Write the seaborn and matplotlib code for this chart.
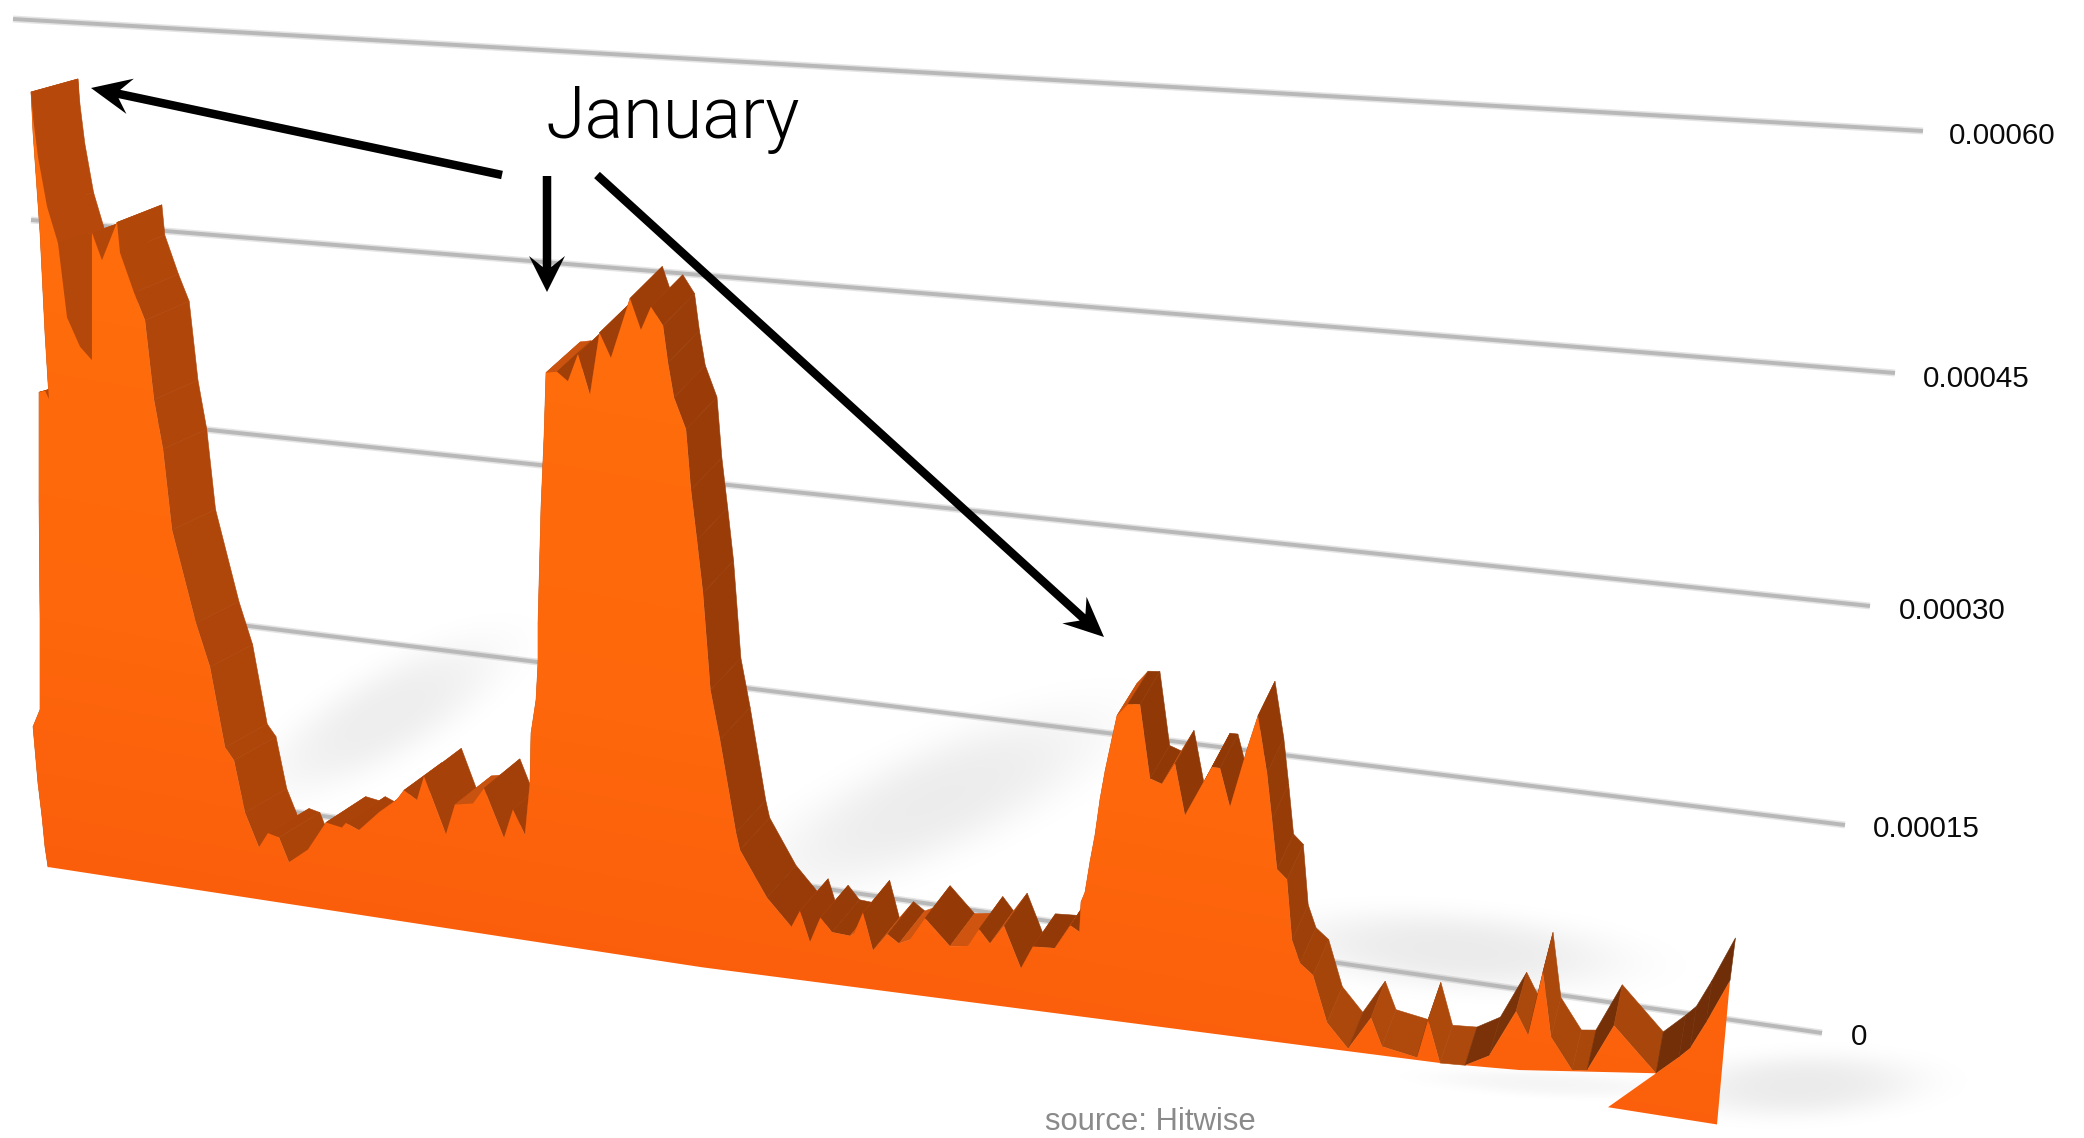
import numpy as np
import matplotlib
matplotlib.use("Agg")
import matplotlib.pyplot as plt
from matplotlib.colors import LinearSegmentedColormap, to_rgb
from matplotlib.patches import Polygon
import seaborn as sns

# Search share by week; shares are in millionths of all visits.
week = [1.8, 1.5, 1.2, 0.8, 0.3, 1.0, 1.0, 0.9, 0.9, 1.5, 1.9, 1.5, 1.0, 0.3, 0.1,
        0.3, 0.8, 1.7, 2.8, 3.7, 5.0, 6.2, 6.2, 7.2, 8.7, 9.0, 10.4, 11.5, 12.4, 13.3, 14.2,
        16.6, 18.0, 19.5, 20.4, 21.5, 22.9, 23.8, 24.9, 25.9, 27.8, 29.6, 31.2, 31.6, 32.9, 34.9,
        36.7, 37.4, 38.7, 39.4, 41.6, 42.5, 44.3, 45.4, 47.4, 48.3, 49.5, 50.0,
        50.1, 50.6, 50.8, 50.8, 51.1, 51.4, 51.6, 52.7, 53.8, 54.8, 56.0, 56.95, 58.1, 60.0,
        61.1, 62.1, 63.3, 63.8, 64.4, 65.6, 66.1, 66.7, 67.3, 68.05, 69.0, 70.6, 71.0, 73.7,
        76.15, 77.0, 78.0, 79.05, 80.2, 82.0, 82.4, 83.3, 84.3, 85.75, 86.9, 88.0, 89.5, 92.0,
        93.8, 94.9, 96.0, 97.4, 99.1, 100.3, 102.5, 104.05, 104.95, 105.1, 105.5, 106.0, 106.5,
        107.0, 107.5, 108.2, 108.7, 109.8, 111.0, 112.0, 113.2, 114.5, 115.5, 118.2, 119.0,
        120.0, 121.7, 122.8, 123.7, 124.2, 124.7, 125.7, 126.2, 127.0, 128.3, 129.7, 131.8,
        134.1, 135.2, 138.7, 139.8, 141.0, 143.5, 145.9, 148.6, 149.8, 151.3, 152.1, 154.2,
        155.7, 158.4, 162.6, 164.9, 166.0, 167.6, 170.0]
share = [0, 15, 38, 63, 106, 120, 192, 281, 364, 366, 360, 410, 487, 563, 594,
         575, 545, 508, 481, 425, 404, 395, 493, 473, 504, 481, 452, 432, 372, 335, 274,
         205, 173, 113, 104, 65, 40, 52, 50, 32, 44, 67, 65, 69, 65, 81,
         93, 101, 95, 114, 72, 96, 99, 112, 76, 99, 81, 122,
         160, 186, 215, 245, 335, 389, 439, 441, 435, 457, 427, 476, 458, 506,
         483, 502, 489, 461, 435, 412, 366, 328, 288, 214, 177, 107, 94, 60,
         40, 53, 30, 50, 40, 39, 41, 58, 30, 44, 38, 42, 60, 41,
         43, 57, 47, 62, 31, 49, 50, 69, 65, 88, 96, 120, 141,
         169, 191, 217, 235, 245, 246, 190, 187, 204, 165, 205, 205,
         176, 222, 249, 206, 171, 133, 126, 80, 63, 55, 20, 2,
         28, 7, 2, 32, 0, 0, 9, 45, 27, 76,
         26, 1, 1, 36, 0, 13, 20, 40, 73]

# The last column of the series dips below the floor of the chart.
closing_week = [168.7, 157.8, 162.6]
closing_share = [-38, -27, 0]

grid_levels = [0.0, 0.00015, 0.00030, 0.00045, 0.00060]
grid_labels = ["0", "0.00015", "0.00030", "0.00045", "0.00060"]

WIDTH, HEIGHT = 2084, 1138

# Perspective of the scene, in canvas pixels.
floor_x = [30, 48, 700, 1300, 1440, 1518, 1646, 1750]
floor_y = [864, 867, 967, 1045, 1063, 1070, 1073, 1076]
wall_left_x = [60, 40, 40, 31, 13]
wall_left_y = [778, 600, 412, 220, 19]
wall_right_x = [1822, 1845, 1870, 1895, 1923]
wall_right_y = [1033, 825, 606, 373, 131]
label_x = [1851, 1873, 1899, 1923, 1949]
label_y = [1037, 829, 611, 379, 136]


def project(weeks, shares):
    """Front face of the ribbon: week and share to canvas position."""
    x = 30 + 10 * np.asarray(weeks, float)
    y = np.interp(x, floor_x, floor_y) - 1.3 * np.asarray(shares, float)
    return x, y


def extrude(x, y):
    """Back face of the ribbon, receding towards the vanishing point."""
    dx = np.interp(x, [30, 1750], [47, 5])
    dy = np.interp(x, [30, 240, 600, 1160, 1750], [-13, -24, -32, -33, -43])
    return x + dx, y + dy


def blend(x, stops, colours):
    rgb = np.array([to_rgb(c) for c in colours])
    return tuple(np.interp(x, stops, rgb[:, i]) for i in range(3))


def draw_arrow(ax, start, tip, length=40, half_width=18, notch=11, shaft=8.5):
    start, tip = np.array(start, float), np.array(tip, float)
    u = (tip - start) / np.linalg.norm(tip - start)
    n = np.array([-u[1], u[0]])
    barb = tip - u * length
    neck = barb + u * notch
    pts = [start + n * shaft / 2, neck + n * shaft / 2, barb + n * half_width, tip,
           barb - n * half_width, neck - n * shaft / 2, start - n * shaft / 2]
    ax.add_patch(Polygon(pts, closed=True, fc="black", ec="none", zorder=8))


sns.set_theme(style="white")
plt.rcParams["font.family"] = ["Liberation Sans", "DejaVu Sans"]

fig = plt.figure(figsize=(WIDTH / 100, HEIGHT / 100), dpi=100, facecolor="white")
ax = fig.add_axes([0, 0, 1, 1])
ax.set_xlim(0, WIDTH)
ax.set_ylim(HEIGHT, 0)
ax.axis("off")

# Soft shadows the ribbon casts on the back wall and on the ground.
gx, gy = np.meshgrid(np.arange(WIDTH), np.arange(HEIGHT))
shadow_blobs = [  # centre x, centre y, long radius, short radius, angle, darkness
    (385, 715, 125, 42, -30, 0.07),
    (935, 800, 175, 52, -24, 0.075),
    (1455, 950, 160, 36, 4, 0.08),
    (1800, 1085, 115, 30, -2, 0.08),
    (1545, 1083, 110, 12, 3, 0.04),
]
alpha = np.zeros_like(gx, dtype=float)
for cx, cy, a, b, ang, dark in shadow_blobs:
    t = np.deg2rad(ang)
    u = (gx - cx) * np.cos(t) + (gy - cy) * np.sin(t)
    v = -(gx - cx) * np.sin(t) + (gy - cy) * np.cos(t)
    alpha += dark * np.exp(-((u / a) ** 2 + (v / b) ** 2) ** 1.5)
shadow = np.zeros(alpha.shape + (4,))
shadow[..., 3] = np.clip(alpha, 0, 1)
ax.imshow(shadow, extent=(0, WIDTH, HEIGHT, 0), zorder=1, aspect="auto")

# Gridlines along the back wall, with their value labels at the far end.
for i, level in enumerate(grid_levels):
    xs = np.array([wall_left_x[i], wall_right_x[i]])
    ys = np.array([wall_left_y[i], wall_right_y[i]])
    sns.lineplot(x=xs, y=ys, ax=ax, color="#a8a8a8", lw=5.0, alpha=0.3,
                 estimator=None, sort=False, solid_capstyle="butt", zorder=2)
    sns.lineplot(x=xs, y=ys, ax=ax, color="#b8b8b8", lw=2.8,
                 estimator=None, sort=False, solid_capstyle="butt", zorder=2)
    ax.text(label_x[i], label_y[i], grid_labels[i], fontsize=21.3, color="#0a0a0a",
            ha="left", va="center", zorder=9)

# Top surface of the ribbon: one shaded facet per step of the series.
fx, fy = project(week, share)
bx, by = extrude(fx, fy)
fall_stops = [50, 700, 1250, 1350, 1750]
fall_cols = ["#b5480a", "#9a3c08", "#8f3806", "#b04a0c", "#a5450b"]
rise_stops = [50, 900, 1250, 1400, 1750]
rise_cols = ["#c2500e", "#cf5510", "#c94f0c", "#7f3408", "#6f2d08"]
for i in range(len(fx) - 1):
    mid = 0.5 * (fx[i] + fx[i + 1])
    if fy[i + 1] > fy[i]:
        colour = blend(mid, fall_stops, fall_cols)
    else:
        colour = blend(mid, rise_stops, rise_cols)
    quad = [(fx[i], fy[i]), (fx[i + 1], fy[i + 1]), (bx[i + 1], by[i + 1]), (bx[i], by[i])]
    ax.add_patch(Polygon(quad, closed=True, fc=colour, ec=colour, lw=0.4, zorder=3))

# Front face of the ribbon, filled with a faint diagonal gradient.
cx, cy = project(closing_week, closing_share)
floor_xs = np.linspace(cx[-1], fx[0], 60)
floor_ys = np.interp(floor_xs, floor_x, floor_y)
outline = np.column_stack([np.r_[fx, cx, floor_xs], np.r_[fy, cy, floor_ys]])
face = Polygon(outline, closed=True, fc="none", ec="none", transform=ax.transData, zorder=4)
ax.add_patch(face)
ramp = np.clip((gy - 0.18 * gx - 300) / 620.0, 0, 1)
orange = LinearSegmentedColormap.from_list("face", ["#ff6c0b", "#fe670b", "#fa5c0b"])
img = ax.imshow(ramp, extent=(0, WIDTH, HEIGHT, 0), cmap=orange, vmin=0, vmax=1,
                aspect="auto", zorder=4)
img.set_clip_path(face)

# Call-out pointing at each January peak.
draw_arrow(ax, (502, 175), (91, 88))
draw_arrow(ax, (547, 176), (547, 292), length=36)
draw_arrow(ax, (597, 175), (1104, 637))
ax.text(546, 138, "January", fontsize=51.8, family=["Roboto", "Liberation Sans"], weight=300,
        color="black", ha="left", va="baseline", zorder=9)
ax.text(1150, 1122, "source: Hitwise", fontsize=22.3, color="#8a8a8a",
        ha="center", va="center", zorder=9)

ax.set_xlim(0, WIDTH)
ax.set_ylim(HEIGHT, 0)
fig.savefig("out.png", dpi=100, facecolor="white")
